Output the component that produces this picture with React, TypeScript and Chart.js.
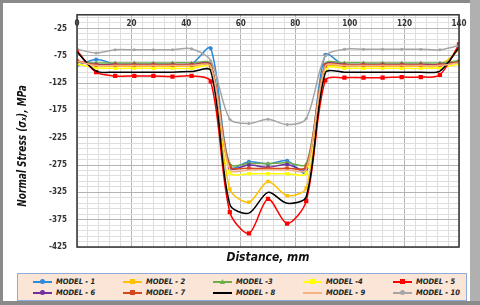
import { useEffect, useRef } from "react";
import { Chart, registerables } from "chart.js";

Chart.register(...registerables);

const FONT = "'Liberation Sans Narrow','DejaVu Sans Condensed','DejaVu Sans',sans-serif";

const distances = [0, 7, 14, 21, 28, 35, 42, 49, 56, 63, 70, 77, 84, 91, 98, 105, 112, 119, 126, 133, 140];
const xTickLabels = [0, 20, 40, 60, 80, 100, 120, 140];
const yTickLabels = [-25, -75, -125, -175, -225, -275, -325, -375, -425];

const model1 = [-93, -82, -90, -91, -91, -91, -90, -61, -279, -269, -273, -267, -289, -73, -93, -92, -92, -92, -92, -91, -85];
const model2 = [-85, -93, -94, -94, -94, -94, -94, -95, -319, -343, -305, -331, -317, -97, -94, -94, -94, -94, -94, -93, -64];
const model3 = [-87, -88, -88, -88, -88, -88, -88, -90, -273, -272, -272, -271, -273, -90, -88, -88, -88, -88, -88, -88, -84];
const model4 = [-90, -97, -98, -98, -98, -98, -98, -96, -289, -291, -291, -291, -290, -99, -98, -98, -98, -98, -98, -97, -90];
const model5 = [-66, -105, -112, -112, -112, -113, -112, -122, -361, -400, -337, -382, -341, -120, -115, -115, -115, -114, -114, -110, -54];
const model6 = [-86, -91, -91, -91, -91, -91, -91, -92, -280, -275, -279, -274, -282, -92, -91, -91, -91, -91, -91, -91, -87];
const model7 = [-84, -92, -92, -92, -92, -92, -92, -93, -277, -281, -281, -281, -278, -93, -92, -92, -92, -92, -92, -92, -86];
const model8 = [-68, -103, -105, -105, -105, -105, -104, -102, -347, -363, -325, -345, -333, -106, -105, -105, -105, -105, -105, -103, -60];
const model9 = [-85, -93, -93, -93, -93, -93, -93, -94, -283, -284, -283, -284, -283, -94, -93, -93, -93, -93, -93, -93, -88];
const model10 = [-63, -70, -64, -64, -64, -64, -62, -84, -191, -199, -191, -201, -190, -75, -63, -63, -63, -63, -63, -64, -56];

const seriesValues = [model1, model2, model3, model4, model5, model6, model7, model8, model9, model10];
const seriesLabels = ["MODEL - 1", "MODEL - 2", "MODEL -3", "MODEL -4", "MODEL - 5", "MODEL - 6", "MODEL - 7", "MODEL - 8", "MODEL - 9", "MODEL - 10"];
const seriesColors = ["#2f8ad8", "#ffc000", "#70ad47", "#ffff00", "#ff0000", "#7030a0", "#d4471f", "#000000", "#f4b183", "#a5a5a5"];
const seriesMarkers = ["circle", "rect", "triangle", "rect", "rect", "circle", "rect", "none", "none", "circle"];
const markerSizes = [2, 2.5, 2.5, 2.5, 3, 2, 2.5, 0, 0, 1.5];

const Y_MIN = -425;
const Y_MAX = 0;

const textPlugin = {
  id: "textPlugin",
  afterDraw(chart: any) {
    const { ctx, chartArea } = chart;
    const xs = chart.scales.x;
    ctx.save();
    // plot frame
    ctx.strokeStyle = "#333333";
    ctx.lineWidth = 1.5;
    ctx.strokeRect(chartArea.left, chartArea.top, chartArea.right - chartArea.left, chartArea.bottom - chartArea.top);
    // x tick labels inside top
    ctx.fillStyle = "#333333";
    ctx.font = `bold 8px ${FONT}`;
    ctx.textAlign = "center";
    ctx.textBaseline = "middle";
    xTickLabels.forEach((v) => {
      ctx.fillText(String(v), xs.getPixelForValue(v), chartArea.top + 9);
    });
    // x title
    ctx.fillStyle = "#111111";
    ctx.save();
    ctx.translate((chartArea.left + chartArea.right) / 2, chartArea.bottom + 11);
    ctx.scale(0.92, 1);
    ctx.font = `italic bold 13px ${FONT}`;
    ctx.fillText("Distance, mm", 0, 0);
    ctx.restore();
    // y title
    ctx.translate(23, 146);
    ctx.rotate(-Math.PI / 2);
    ctx.scale(0.8, 1);
    ctx.font = `italic bold 12.5px ${FONT}`;
    ctx.fillText("Normal Stress (σₓ), MPa", 0, 0);
    ctx.restore();
  },
};

function LegendMarker({ style, color }: { style: string; color: string }) {
  if (style === "none") return null;
  const base: any = { position: "absolute", left: 7, top: 2, width: 5, height: 5, background: color };
  if (style === "circle") base.borderRadius = "50%";
  if (style === "triangle") base.clipPath = "polygon(50% 0, 100% 100%, 0 100%)";
  return <div style={base} />;
}

export default function App() {
  const canvasRef = useRef<HTMLCanvasElement | null>(null);

  useEffect(() => {
    document.body.style.margin = "0";
    const canvas = canvasRef.current;
    if (!canvas) return;
    const datasets = seriesValues.map((vals, i) => ({
      label: seriesLabels[i],
      data: vals.map((y, k) => ({ x: distances[k], y })),
      borderColor: seriesColors[i],
      backgroundColor: seriesColors[i],
      pointBackgroundColor: seriesColors[i],
      pointBorderColor: seriesColors[i],
      pointStyle: seriesMarkers[i] === "none" ? false : seriesMarkers[i],
      pointRadius: markerSizes[i],
      pointBorderWidth: 0,
      borderWidth: 1.5,
      tension: 0.3,
      fill: false,
      order: 9 - i,
    }));
    const chart = new Chart(canvas, {
      type: "line",
      data: { datasets: datasets as any },
      options: {
        animation: false,
        responsive: false,
        maintainAspectRatio: false,
        layout: { padding: { left: 0, top: 12, right: 21, bottom: 23 } },
        plugins: { legend: { display: false }, tooltip: { enabled: false } },
        scales: {
          x: {
            type: "linear",
            min: 0,
            max: 140,
            position: "bottom",
            afterBuildTicks: (axis: any) => {
              const t = [];
              for (let v = 0; v <= 140; v += 4) t.push({ value: v });
              axis.ticks = t;
            },
            afterFit: (axis: any) => {
              axis.height = 0;
            },
            ticks: { display: false },
            border: { display: false },
            grid: {
              drawTicks: false,
              color: (c: any) => (c.tick && c.tick.value % 20 === 0 ? "#b4b4b4" : "#dedede"),
              lineWidth: 1,
            },
          },
          y: {
            type: "linear",
            min: Y_MIN,
            max: Y_MAX,
            afterBuildTicks: (axis: any) => {
              const t = [];
              for (let v = Y_MIN; v < Y_MAX; v += 10) t.push({ value: v });
              t.push({ value: Y_MAX });
              axis.ticks = t;
            },
            afterFit: (axis: any) => {
              axis.width = 77;
            },
            ticks: {
              autoSkip: false,
              padding: 10,
              color: "#333333",
              font: { family: FONT, size: 8, weight: "bold" },
              callback: (v: any) => (yTickLabels.includes(Number(v)) ? String(v) : ""),
            },
            border: { display: false },
            grid: {
              drawTicks: false,
              color: (c: any) => (c.tick && yTickLabels.includes(c.tick.value) ? "#b4b4b4" : "#dedede"),
              lineWidth: 1,
            },
          },
        },
      },
      plugins: [textPlugin],
    });
    return () => chart.destroy();
  }, []);

  return (
    <div style={{ position: "relative", width: 480, height: 305, background: "#ffffff", overflow: "hidden" }}>
      <canvas ref={canvasRef} width={480} height={270} style={{ position: "absolute", left: 0, top: 0, width: 480, height: 270 }} />
      <div
        style={{
          position: "absolute",
          left: 17,
          top: 273,
          width: 450,
          height: 28,
          boxSizing: "border-box",
          background: "#fbe5d6",
          border: "1px solid #8faadc",
        }}
      >
        {seriesLabels.map((lab, i) => {
          const col = i % 5;
          const row = Math.floor(i / 5);
          return (
            <div
              key={lab}
              style={{ position: "absolute", left: 15 + col * 90, top: 3 + row * 11, height: 10, width: 88 }}
            >
              <div style={{ position: "absolute", left: 0, top: 4, width: 19, height: 1.5, background: seriesColors[i] }} />
              <LegendMarker style={seriesMarkers[i]} color={seriesColors[i]} />
              <span
                style={{
                  position: "absolute",
                  left: 23,
                  top: 0,
                  fontFamily: FONT,
                  fontSize: 7.5,
                  fontWeight: "bold",
                  fontStyle: "italic",
                  lineHeight: "10px",
                  color: "#222",
                  whiteSpace: "nowrap",
                }}
              >
                {lab}
              </span>
            </div>
          );
        })}
      </div>
      <div style={{ position: "absolute", left: 0, top: 0, width: 3, height: 305, background: "#8a8a8a" }} />
      <div style={{ position: "absolute", left: 0, top: 0, width: 480, height: 3, background: "#8a8a8a" }} />
      <div style={{ position: "absolute", left: 470, top: 0, width: 10, height: 305, background: "#b0b0b0" }} />
      <div style={{ position: "absolute", left: 0, top: 301, width: 480, height: 4, background: "#8a8a8a" }} />
    </div>
  );
}
